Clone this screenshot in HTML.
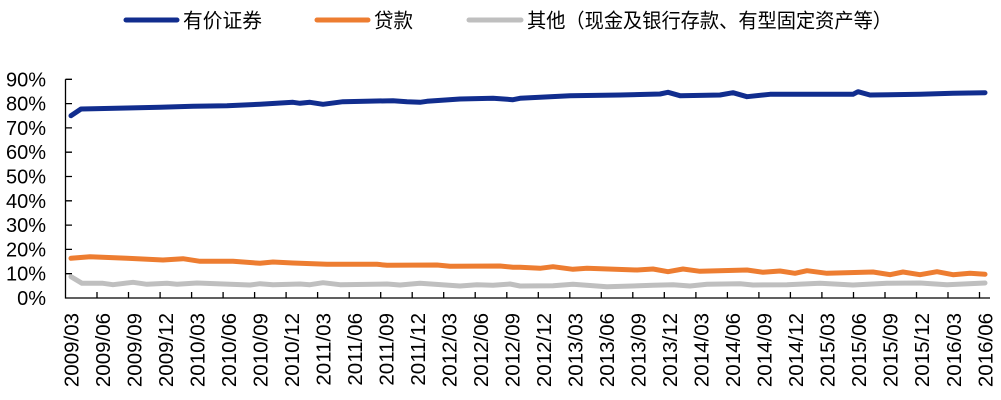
<!DOCTYPE html>
<html>
<head>
<meta charset="utf-8">
<style>
html,body{margin:0;padding:0;background:#fff;}
svg{display:block;}
text{font-family:"Liberation Sans","Noto Sans CJK SC",sans-serif;fill:#000;}
</style>
</head>
<body>
<svg width="1001" height="400" viewBox="0 0 1001 400" xmlns="http://www.w3.org/2000/svg">
<!-- Legend -->
<g stroke-linecap="round" stroke-width="5" fill="none">
<line x1="126" y1="20" x2="177" y2="20" stroke="#112d8e"/>
<line x1="317" y1="20" x2="368" y2="20" stroke="#ed7d31"/>
<line x1="469" y1="20" x2="521" y2="20" stroke="#bfbfbf"/>
</g>
<g font-size="20">
<text x="183" y="27.5" textLength="79" lengthAdjust="spacingAndGlyphs">有价证券</text>
<text x="374" y="27.5" textLength="39" lengthAdjust="spacingAndGlyphs">贷款</text>
<text x="527" y="27.5" textLength="365" lengthAdjust="spacingAndGlyphs">其他（现金及银行存款、有型固定资产等）</text>
</g>

<!-- Y axis labels -->
<g font-size="20" text-anchor="end">
<text x="46" y="305">0%</text>
<text x="46" y="280.7">10%</text>
<text x="46" y="256.4">20%</text>
<text x="46" y="232.1">30%</text>
<text x="46" y="207.8">40%</text>
<text x="46" y="183.5">50%</text>
<text x="46" y="159.2">60%</text>
<text x="46" y="134.9">70%</text>
<text x="46" y="110.6">80%</text>
<text x="46" y="86.3">90%</text>
</g>

<!-- Axes -->
<g stroke="#000" stroke-width="1.3" fill="none">
<path d="M65.5 79.3 V298 H990"/>
<path d="M65.5 273.7 H72 M65.5 249.4 H72 M65.5 225.1 H72 M65.5 200.8 H72 M65.5 176.5 H72 M65.5 152.2 H72 M65.5 127.9 H72 M65.5 103.6 H72 M65.5 79.3 H72"/>
<path d="M97 298 V292 M128.5 298 V292 M160.1 298 V292 M191.6 298 V292 M223.1 298 V292 M254.6 298 V292 M286.1 298 V292 M317.6 298 V292 M349.2 298 V292 M380.7 298 V292 M412.2 298 V292 M443.7 298 V292 M475.2 298 V292 M506.8 298 V292 M538.3 298 V292 M569.8 298 V292 M601.3 298 V292 M632.8 298 V292 M664.3 298 V292 M695.9 298 V292 M727.4 298 V292 M758.9 298 V292 M790.4 298 V292 M821.9 298 V292 M853.5 298 V292 M885 298 V292 M916.5 298 V292 M948 298 V292 M979.5 298 V292"/>
</g>

<!-- X axis labels -->
<g font-size="20.5" text-anchor="end">
<text transform="translate(78.3,313) rotate(-90)">2009/03</text>
<text transform="translate(109.8,313) rotate(-90)">2009/06</text>
<text transform="translate(141.3,313) rotate(-90)">2009/09</text>
<text transform="translate(172.8,313) rotate(-90)">2009/12</text>
<text transform="translate(204.3,313) rotate(-90)">2010/03</text>
<text transform="translate(235.8,313) rotate(-90)">2010/06</text>
<text transform="translate(267.4,313) rotate(-90)">2010/09</text>
<text transform="translate(298.9,313) rotate(-90)">2010/12</text>
<text transform="translate(330.4,313) rotate(-90)">2011/03</text>
<text transform="translate(361.9,313) rotate(-90)">2011/06</text>
<text transform="translate(393.4,313) rotate(-90)">2011/09</text>
<text transform="translate(425,313) rotate(-90)">2011/12</text>
<text transform="translate(456.5,313) rotate(-90)">2012/03</text>
<text transform="translate(488,313) rotate(-90)">2012/06</text>
<text transform="translate(519.5,313) rotate(-90)">2012/09</text>
<text transform="translate(551,313) rotate(-90)">2012/12</text>
<text transform="translate(582.5,313) rotate(-90)">2013/03</text>
<text transform="translate(614.1,313) rotate(-90)">2013/06</text>
<text transform="translate(645.6,313) rotate(-90)">2013/09</text>
<text transform="translate(677.1,313) rotate(-90)">2013/12</text>
<text transform="translate(708.6,313) rotate(-90)">2014/03</text>
<text transform="translate(740.1,313) rotate(-90)">2014/06</text>
<text transform="translate(771.6,313) rotate(-90)">2014/09</text>
<text transform="translate(803.2,313) rotate(-90)">2014/12</text>
<text transform="translate(834.7,313) rotate(-90)">2015/03</text>
<text transform="translate(866.2,313) rotate(-90)">2015/06</text>
<text transform="translate(897.7,313) rotate(-90)">2015/09</text>
<text transform="translate(929.2,313) rotate(-90)">2015/12</text>
<text transform="translate(960.8,313) rotate(-90)">2016/03</text>
<text transform="translate(992.3,313) rotate(-90)">2016/06</text>
</g>

<!-- Series -->
<g fill="none" stroke-width="5" stroke-linejoin="round" stroke-linecap="round">
<polyline stroke="#bfbfbf" points="71,276.7 82,283.3 103,283.3 113,284.7 133,282.3 147,284.3 167,283.3 177,284.3 197,283 250,285 260,283.7 273,284.7 300,284 310,284.7 323,282.7 340,284.7 387,284 400,285 420,283.3 460,286 477,284.7 493,285.3 510,284 520,286 553,285.7 573,284.3 607,286.7 653,285.3 673,284.7 690,286 707,284.3 740,283.7 753,285 787,284.7 820,283.3 853,285 887,283.3 920,283 947,284.7 985,283"/>
<polyline stroke="#ed7d31" points="71,258.3 90,256.7 127,258.3 163,260 183,258.7 200,261.3 233,261.3 260,263.3 273,262 293,263 327,264.3 377,264.3 387,265.3 437,265 450,266.3 500,266 513,267.3 520,267.3 540,268.3 553,266.7 573,269.3 587,268.3 637,270 653,269 668,271.7 683,269 700,271.3 747,270 763,272.3 780,271 795,273.3 807,270.7 827,273.3 873,272 890,274.7 903,272 920,274.7 937,271.7 953,274.7 970,273.3 985,274.3"/>
<polyline stroke="#112d8e" points="71,115.7 81,109 93,108.7 127,108 160,107.3 193,106.3 227,105.7 260,104.3 293,102.3 300,103.3 310,102.3 323,104.3 343,101.7 393,100.7 407,101.7 420,102.3 427,101.3 460,99 493,98.3 513,99.7 520,98.3 570,95.7 620,95 660,94 668,92.3 680,95.7 720,95 733,92.7 747,96.7 770,94.3 820,94.3 853,94.3 858,91.7 870,95 920,94.3 953,93.3 985,92.7"/>
</g>
</svg>
</body>
</html>
